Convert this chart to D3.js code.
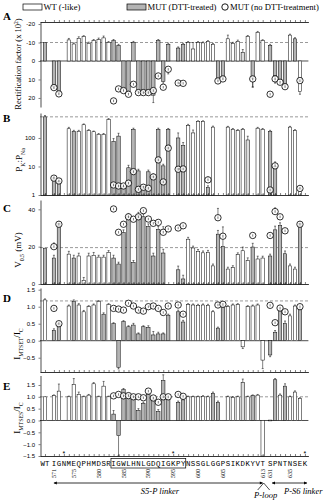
<!DOCTYPE html>
<html><head><meta charset="utf-8">
<script src="https://cdn.jsdelivr.net/npm/d3@7"></script>
<style>body{margin:0;background:#fff}svg{display:block}</style>
</head><body><svg id="c" width="327" height="500"></svg>
<script>
// ---------- DATA ----------
const residues = ["WT",571,572,573,574,575,576,577,578,579,
 580,581,582,583,584,585,586,587,588,589,
 590,591,592,593,594,595,596,597,598,599,
 600,601,602,603,604,605,606,607,608,609,
 610,611,612,613,631,632,633,634,635,636,
 637,638];
const seqLetters = ["WT","I","G","N","M","E","Q","P","H","M",
 "D","S","R","I","G","W","L","H","N","L",
 "G","D","Q","I","G","K","P","Y","N","S",
 "S","G","L","G","G","P","S","I","K","D",
 "K","Y","V","T","S","P","N","T","N","S",
 "E","K"];
const numberLabels = [571,575,580,585,590,595,600,605,613,631,635];
const asterisks = [573,595,638];
const boxedFrom = 583, boxedTo = 597;

// Panel A: rectification factor (x10^2)
const aVal = [-10,14,17,null,-11.4,-9.2,-12.3,-13.2,-9.5,-11,
 -11.5,-12.5,-10,-11,-8.5,15,16.5,-10,16.5,17,
 17,18.5,-11,11,-9,null,-7,-9,-10,-6.5,
 -10,-9.8,-10.5,-9,10,9,-12,-9.5,-10.5,-4.7,
 -13.3,9.5,-15.5,-11,-8.5,8,10,13,-14,-12,
 16.5,null];
const aType = "gggxwwwwww"+"wwwggggggg"+"gggggxggww"+"wwwwggwwwl"+"wgwwggggwg"+"wx";
const aErr = [0,0.8,0.8,null,0.8,0.6,0.8,0.5,0.7,0.6,
 0.9,1,0.5,0.6,0.5,0.8,1,0.6,0.8,0.8,
 0.8,4,0.6,1,0.7,null,0.6,0.6,0.5,3.5,
 0.5,0.5,0.5,0.5,0.8,0.8,2,0.6,0.8,1.5,
 0.5,4.5,0.5,0.5,0.5,4,1,1,0.5,0.6,
 1.5,null];
const aCirc = [null,14.4,17.8,null,null,null,null,null,null,null,
 null,null,null,21.6,15.1,16,18,12.6,17.1,17.1,
 17.1,16,8.1,14.2,4.5,null,11.9,12.1,null,null,
 null,null,null,null,10.8,9.7,null,null,null,null,
 null,9.7,null,null,18,9.7,11.5,13.9,null,null,
 10.6,null];
const aCircErr = [null,null,null,null,null,null,null,null,null,null,
 null,null,null,null,null,null,null,null,null,null,
 null,null,null,null,2.5,null,null,null,null,null,
 null,null,null,null,null,null,null,null,null,null,
 null,4.5,null,null,null,1.5,1,null,null,null,
 0.5,null];

// Panel B: PK:PNa
const bVal = [550,4,3,null,210,170,170,290,180,165,
 133,133,437,75,116,2,9,200,7,2,
 6.5,4.5,200,10.5,200,null,100,54,270,150,
 380,380,1.8,240,null,null,240,200,180,200,
 85,null,220,200,170,10,null,null,240,180,
 1.7,null];
const bType = "gggxwgwwww"+"wwwggggggg"+"gggggxggww"+"wwgwxxwwww"+"lxwwggxxww"+"wx";
const bErr = [60,0.5,0.3,null,25,15,15,20,15,10,
 10,10,40,20,30,0.3,2,20,1,0.3,
 1,1,20,1.5,15,null,50,15,30,40,
 20,20,0.3,20,null,null,15,15,15,15,
 30,null,15,15,15,2,null,null,15,15,
 0.2,null];
const bCirc = [null,3.9,3.1,null,null,null,null,null,null,null,
 null,null,null,2.25,2.07,2.07,2.6,6.6,1.58,1.87,
 1.72,4.3,17,2.87,44,null,8,8.2,null,null,
 null,null,3.4,null,null,null,null,null,null,null,
 null,null,null,null,1.5,10.5,null,null,null,null,
 1.7,null];
const bCircErr = [null,0.6,null,null,null,null,null,null,null,null,
 null,null,null,null,null,null,null,null,null,null,
 null,null,null,null,null,null,null,null,null,null,
 null,null,0.8,null,null,null,null,null,null,null,
 null,null,null,null,null,4,null,null,null,null,
 null,null];

// Panel C: V0.5 (mV)
const cVal = [19.2,13.9,32.5,null,16,13.9,15,2,15,15.4,
 14.4,14.4,16.9,13.9,10.7,27.5,36.3,11.6,36.9,36,
 30.7,15,29.3,16.6,null,null,7.6,2.7,24,19.3,
 17.5,16.7,17,9.7,26.7,20.1,8,8.8,15.7,17.8,
 12.5,19.8,13.4,13.9,15,29,31.3,16.2,9.7,8,
 32.5,null];
const cType = "gggxwgwwww"+"wwwggggggg"+"ggggxxggww"+"wwwwggwwww"+"wgwwggggww"+"gx";
const cErr = [0,1.5,1,null,1.5,1.5,1.5,1.5,1.5,1.5,
 1,1,1,1.5,1,1.5,1.5,1,1.5,1.5,
 1.5,1.5,1.5,2,null,null,2,2,1,1,
 1,1,1,1,2,5,1,1,1,2,
 1.5,2,1.5,1,1,2,1.5,1.5,1,1,
 1,null];
const cCirc = [null,20,32,null,null,null,null,null,null,null,
 null,null,null,40.2,27.7,32,36,34.7,36,39.3,
 34.8,32.5,33,27.7,29.5,null,30,31.2,null,null,
 null,null,null,null,35.5,25.6,null,null,null,null,
 null,26,null,null,26,38.8,36,28.5,null,null,
 32,null];
const cCircErr = [null,2,null,null,null,null,null,null,null,null,
 null,null,null,null,null,null,null,null,null,null,
 null,null,null,3,null,null,null,null,null,null,
 null,null,null,null,5,5,null,null,null,null,
 null,null,null,null,null,2,null,null,null,null,
 null,null];

// Panel D: I_MTSET / I_C
const dVal = [1.2,0.3,0.5,null,1.02,1.15,1.05,0.85,1.0,1.05,
 1.15,0.78,1.06,0.5,-0.78,0.56,0.41,0.46,0.2,0.41,
 0.39,0.17,0.2,0.2,0.75,null,0.85,0.55,1.06,1.05,
 1.04,1.05,1.04,0.85,0.37,1.0,1.0,1.05,1.06,-0.18,
 1.0,1.02,1.05,-0.57,-0.42,0.25,0.9,0.5,0.73,1.02,
 0.92,null];
const dType = "wggxwgwwww"+"wgwggggggg"+"gggggxggww"+"wwwwggwwww"+"wwwwggggww"+"gx";
const dErr = [0.03,0.05,0.05,null,0.03,0.05,0.04,0.04,0.03,0.03,
 0.03,0.04,0.03,0.03,0.05,0.03,0.03,0.05,0.03,0.03,
 0.05,0.1,0.05,0.03,0.03,null,0.05,0.05,0.03,0.03,
 0.03,0.03,0.03,0.03,0.03,0.03,0.03,0.03,0.03,0.05,
 0.03,0.03,0.03,0.25,0.05,0.05,0.03,0.08,0.05,0.03,
 0.03,null];
const dCirc = [null,0.95,0.5,null,null,null,null,null,null,null,
 null,null,null,0.95,0.93,0.9,1.1,1.02,0.9,0.87,
 1.0,1.02,0.95,0.83,1.02,null,1.05,0.78,null,null,
 null,null,null,null,1.05,1.07,null,null,null,null,
 null,null,null,null,1.04,0.53,0.96,0.85,null,null,
 1.0,null];
const dCircErr = [];

// Panel E: I_MTSES / I_C
const eVal = [1.0,1.05,1.24,null,1.0,1.52,1.1,1.0,1.07,1.55,
 1.0,1.45,1.0,0.27,-0.64,1.3,1.1,1.0,0.42,0.72,
 1.1,0.9,0.38,1.68,0.9,null,0.77,0.87,1.0,1.0,
 1.0,1.02,1.0,1.15,0.77,null,1.0,0.98,1.0,1.6,
 1.0,1.05,1.07,-1.5,0.0,1.72,1.07,1.45,1.0,1.2,
 0.93,null];
const eType = "wwwxwwwwww"+"wwwggggggg"+"gggggxggww"+"wwwggxwwwl"+"wgwwwgwgww"+"wx";
const eErr = [0,0.03,0.3,null,0.03,0.25,0.1,0.03,0.03,0.05,
 0.03,0.2,0.03,0.15,0.85,0.05,0.05,0.03,0.08,0.05,
 0.05,0.05,0.08,0.25,0.05,null,0.05,0.05,0.03,0.03,
 0.03,0.03,0.03,0.05,0.05,null,0.03,0.03,0.03,0.15,
 0.03,0.03,0.03,0,0,0.05,0.05,0.1,0.03,0.05,
 0.03,null];
const eCirc = [null,null,null,null,null,null,null,null,null,null,
 null,null,null,1.04,1.1,1.04,1.05,1.0,1.0,0.96,
 1.24,0.95,0.77,1.0,1.0,null,1.1,1.02,null,null,
 null,null,null,null,null,null,null,null,null,null,
 null,null,null,null,null,null,null,null,null,null,
 null,null];
const eCircErr = [];

const legendItems = ["WT (-like)","MUT (DTT-treated)","MUT (no DTT-treatment)"];

// ---------- LAYOUT ----------
const svg = d3.select("#c");
const serif = "'Liberation Serif','DejaVu Serif',serif";
const sans = "'Liberation Sans','DejaVu Sans',sans-serif";
const mono = "'Liberation Mono','DejaVu Sans Mono',monospace";

function slot(r){
  if (r === "WT") return 0;
  if (r <= 613) return 1.8 + (r - 571);
  return 45.3 + (r - 631);
}
const x = d3.scaleLinear().domain([-1, 53]).range([40, 308.4]);
const fills = {w:"#ffffff", g:"#b4b4b4", l:"#dcdcdc"};
const bw = 3.4;

const panels = [
  {letter:"A", vals:aVal, types:aType, errs:aErr, circ:aCirc, cerr:aCircErr,
   y:d3.scaleLinear().domain([-21.1,24.9]).range([22,107]), base:0, zero:true,
   ticks:[-20,-10,0,10,20], fmt:d=>String(d), dash:-10, letterY:20},
  {letter:"B", vals:bVal, types:bType, errs:bErr, circ:bCirc, cerr:bCircErr,
   y:d3.scaleLog().domain([1,750]).range([195,113]), base:1, zero:false,
   ticks:[1,10,100], fmt:d=>String(d), dash:550, letterY:122},
  {letter:"C", vals:cVal, types:cType, errs:cErr, circ:cCirc, cerr:cCircErr,
   y:d3.scaleLinear().domain([0,45]).range([284,200]), base:0, zero:false,
   ticks:[0,20,40], fmt:d=>String(d), dash:19.5, letterY:212},
  {letter:"D", vals:dVal, types:dType, errs:dErr, circ:dCirc, cerr:dCircErr,
   y:d3.scaleLinear().domain([-0.92,1.55]).range([372,288]), base:0, zero:true,
   ticks:[-0.5,0,0.5,1,1.5], fmt:d3.format(".1f"), dash:1.17, letterY:302},
  {letter:"E", vals:eVal, types:eType, errs:eErr, circ:eCirc, cerr:eCircErr,
   y:d3.scaleLinear().domain([-1.5,1.9]).range([456,375.5]), base:0, zero:true,
   ticks:[-1.5,-1,-0.5,0,0.5,1,1.5], fmt:d3.format(".1f"), dash:1.0, letterY:390}
];

const slots = residues.map(slot);

panels.forEach(p => {
  const g = svg.append("g");
  const y = p.y;
  const [yb, yt] = y.range();
  g.append("line").attr("x1",40).attr("x2",308.4)
    .attr("y1",y(p.dash)).attr("y2",y(p.dash))
    .attr("stroke","#555").attr("stroke-width",0.6).attr("stroke-dasharray","3,2");
  if (p.zero) {
    g.append("line").attr("x1",40).attr("x2",308.4)
      .attr("y1",y(0)).attr("y2",y(0)).attr("stroke","#000").attr("stroke-width",0.7);
  }
  residues.forEach((r,i) => {
    const v = p.vals[i], t = p.types[i];
    if (v == null || t === "x") return;
    const cx = x(slot(r));
    const y0 = y(p.base), y1 = y(v);
    const h = Math.max(Math.abs(y1-y0), 0.8);
    const top = (v === 0) ? y0 - 0.4 : Math.min(y0,y1);
    const e = p.errs[i];
    if (e) {
      const dir = v >= p.base ? 1 : -1;
      const ye = y(v + dir*e);
      g.append("line").attr("x1",cx).attr("x2",cx).attr("y1",y1).attr("y2",ye)
        .attr("stroke","#000").attr("stroke-width",0.5);
      g.append("line").attr("x1",cx-1).attr("x2",cx+1).attr("y1",ye).attr("y2",ye)
        .attr("stroke","#000").attr("stroke-width",0.5);
    }
    g.append("rect").attr("x",cx-bw/2).attr("y",top).attr("width",bw).attr("height",h)
      .attr("fill",fills[t]).attr("stroke","#000").attr("stroke-width",0.5);
  });
  residues.forEach((r,i) => {
    const c = p.circ[i];
    if (c == null) return;
    const cx = x(slot(r)), cy = y(c);
    const ce = p.cerr[i];
    if (ce) {
      const dir = c >= p.base ? 1 : -1;
      const ye = y(c + dir*ce);
      g.append("line").attr("x1",cx).attr("x2",cx).attr("y1",cy).attr("y2",ye)
        .attr("stroke","#000").attr("stroke-width",0.5);
      g.append("line").attr("x1",cx-1).attr("x2",cx+1).attr("y1",ye).attr("y2",ye)
        .attr("stroke","#000").attr("stroke-width",0.5);
    }
    g.append("circle").attr("cx",cx).attr("cy",cy).attr("r",3.2)
      .attr("fill","#fff").attr("fill-opacity",0.85).attr("stroke","#000").attr("stroke-width",0.8);
    g.append("line").attr("x1",cx).attr("x2",cx).attr("y1",cy-1.2).attr("y2",cy+1.2)
      .attr("stroke","#000").attr("stroke-width",0.5);
  });
  const ax = g.append("g").attr("transform","translate(40.5,0)")
    .call(d3.axisLeft(y).tickValues(p.ticks).tickFormat(p.fmt).tickSize(2).tickSizeOuter(0));
  ax.select(".domain").attr("stroke-width",0.7);
  ax.selectAll("text").attr("font-family",sans).attr("font-size",6).attr("dx",-0.5);
  ax.selectAll("line").attr("stroke-width",0.5);
  const bx = g.append("g").attr("transform",`translate(0,${yb})`)
    .call(d3.axisTop(x).tickValues(slots).tickFormat("").tickSize(2).tickSizeOuter(0));
  bx.select(".domain").attr("stroke-width",0.8);
  bx.selectAll("line").attr("stroke-width",0.5);
  svg.append("text").attr("x",3).attr("y",p.letterY).text(p.letter)
    .attr("font-family",serif).attr("font-weight","bold").attr("font-size",11);
});

function yTitle(cx, cy, parts, size){
  const t = svg.append("text").attr("transform",`translate(${cx},${cy}) rotate(-90)`)
    .attr("text-anchor","middle").attr("font-family",serif).attr("font-size",size);
  parts.forEach(([s,mode]) => {
    const ts = t.append("tspan").text(s);
    if (mode === "sub") ts.attr("font-size",size*0.65).attr("baseline-shift","sub");
    if (mode === "sup") ts.attr("font-size",size*0.65).attr("baseline-shift","super");
  });
}
yTitle(21, 64, [["Rectification factor (x 10"],["2","sup"],[")"]], 8.5);
yTitle(22, 160, [["P"],["K","sub"],[":P"],["Na","sub"]], 9);
yTitle(21, 250, [["V"],["0.5","sub"],[" (mV)"]], 9);
yTitle(20, 344, [["I"],["MTSET","sub"],["/I"],["C","sub"]], 9);
yTitle(20, 418, [["I"],["MTSES","sub"],["/I"],["C","sub"]], 9);

const lg = svg.append("g").attr("font-family",serif).attr("font-size",8.6);
lg.append("rect").attr("x",23).attr("y",4).attr("width",19).attr("height",6)
  .attr("fill","#fff").attr("stroke","#000").attr("stroke-width",0.7);
lg.append("text").attr("x",43.5).attr("y",10).text(legendItems[0]);
lg.append("rect").attr("x",127).attr("y",4).attr("width",19).attr("height",6)
  .attr("fill",fills.g).attr("stroke","#000").attr("stroke-width",0.7);
lg.append("text").attr("x",147.5).attr("y",10).text(legendItems[1]);
lg.append("circle").attr("cx",225).attr("cy",7).attr("r",3.2)
  .attr("fill","#fff").attr("stroke","#000").attr("stroke-width",0.9);
lg.append("text").attr("x",230).attr("y",10).text(legendItems[2]);

const sg = svg.append("g").attr("font-family",mono).attr("font-size",7.4).attr("text-anchor","middle");
residues.forEach((r,i) => {
  sg.append("text").attr("x",x(slot(r))).attr("y",466).text(seqLetters[i]);
});
svg.append("rect").attr("x",x(slot(boxedFrom))-2.6).attr("y",458.5)
  .attr("width",x(slot(boxedTo))-x(slot(boxedFrom))+5.2).attr("height",9.5)
  .attr("fill","none").attr("stroke","#000").attr("stroke-width",0.7);
asterisks.forEach(r => {
  svg.append("text").attr("x",x(slot(r))).attr("y",456).attr("text-anchor","middle")
    .attr("font-family",sans).attr("font-size",7).text("*");
});
numberLabels.forEach(n => {
  svg.append("text").attr("transform",`translate(${x(slot(n))+2},469) rotate(-90)`)
    .attr("text-anchor","end").attr("font-family",serif).attr("font-size",6).text(n);
});
const defs = svg.append("defs");
defs.append("marker").attr("id","ah").attr("viewBox","0 0 10 10").attr("refX",9).attr("refY",5)
  .attr("markerWidth",5).attr("markerHeight",4).attr("orient","auto-start-reverse")
  .append("path").attr("d","M0,0L10,5L0,10z").attr("fill","#000");
svg.append("line").attr("x1",x(slot(571))).attr("x2",x(slot(613))).attr("y1",483).attr("y2",483)
  .attr("stroke","#000").attr("stroke-width",0.8)
  .attr("marker-start","url(#ah)").attr("marker-end","url(#ah)");
svg.append("line").attr("x1",x(slot(631))+2).attr("x2",x(slot(638))+2).attr("y1",483).attr("y2",483)
  .attr("stroke","#000").attr("stroke-width",0.8)
  .attr("marker-start","url(#ah)").attr("marker-end","url(#ah)");
svg.append("path").attr("d",`M${x(slot(613))-5},490L${x(slot(613))+1},483L${x(slot(613))+7},490`)
  .attr("fill","none").attr("stroke","#000").attr("stroke-width",0.7);
const it = svg.append("g").attr("font-family",serif).attr("font-style","italic").attr("font-size",8.5);
it.append("text").attr("x",160).attr("y",494).attr("text-anchor","middle").text("S5-P linker");
it.append("text").attr("x",x(slot(613))+3).attr("y",498).attr("text-anchor","middle").text("P-loop");
it.append("text").attr("x",284).attr("y",494).text("P-S6 linker");
</script>
</body></html>
